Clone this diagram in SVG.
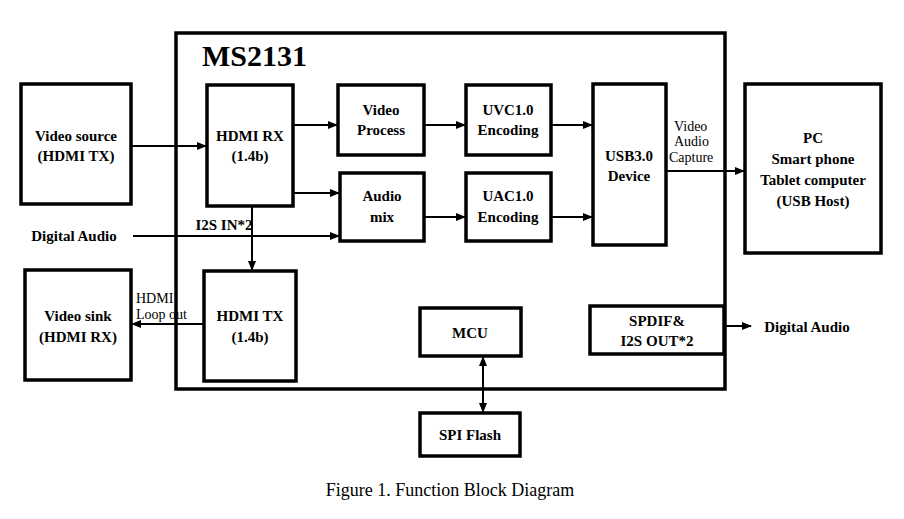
<svg xmlns="http://www.w3.org/2000/svg" width="904" height="519" viewBox="0 0 904 519">
<style>
.b{fill:#fff;stroke:#000;stroke-width:3.5}
.t{font-family:"Liberation Serif",serif;font-weight:bold;font-size:15px;text-anchor:middle}
.n{font-family:"Liberation Serif",serif;font-size:14px}
.c line{stroke:#000;stroke-width:2}
</style>
<defs><marker id="a" markerWidth="10" markerHeight="8" refX="9" refY="4" orient="auto-start-reverse" markerUnits="userSpaceOnUse"><path d="M0,0L10,4L0,8z"/></marker></defs>
<rect width="904" height="519" fill="#fff"/>
<g id="ms2131"><rect class="b" x="176" y="33" width="549" height="356"/><text x="202" y="66" font-family="Liberation Serif,serif" font-weight="bold" font-size="30">MS2131</text></g>
<g class="c">
<line x1="131" y1="146" x2="206" y2="146" marker-end="url(#a)"/>
<line x1="293" y1="125" x2="337" y2="125" marker-end="url(#a)"/>
<line x1="424" y1="125" x2="465" y2="125" marker-end="url(#a)"/>
<line x1="551" y1="125" x2="592" y2="125" marker-end="url(#a)"/>
<line x1="293" y1="193" x2="339" y2="193" marker-end="url(#a)"/>
<line x1="424" y1="217" x2="465" y2="217" marker-end="url(#a)"/>
<line x1="551" y1="217" x2="592" y2="217" marker-end="url(#a)"/>
<line x1="133" y1="236" x2="339" y2="236" marker-end="url(#a)"/>
<line x1="252" y1="206" x2="252" y2="270" marker-end="url(#a)"/>
<line x1="204" y1="324" x2="132" y2="324" marker-end="url(#a)"/>
<line x1="666" y1="171" x2="744" y2="171" marker-end="url(#a)"/>
<line x1="724" y1="326" x2="751" y2="326" marker-end="url(#a)"/>
<line x1="483" y1="357" x2="483" y2="412" marker-start="url(#a)" marker-end="url(#a)"/>
</g>
<g id="vsrc"><rect class="b" x="21" y="84" width="110" height="120"/><text class="t" x="76" y="141">Video source</text><text class="t" x="76" y="161">(HDMI TX)</text></g>
<g id="hdmirx"><rect class="b" x="207" y="85" width="86" height="121"/><text class="t" x="250" y="141">HDMI RX</text><text class="t" x="250" y="161">(1.4b)</text></g>
<g id="vproc"><rect class="b" x="338" y="85" width="86" height="70"/><text class="t" x="381" y="115">Video</text><text class="t" x="381" y="135">Process</text></g>
<g id="uvc"><rect class="b" x="466" y="85" width="85" height="70"/><text class="t" x="508" y="115">UVC1.0</text><text class="t" x="508" y="135">Encoding</text></g>
<g id="amix"><rect class="b" x="340" y="173" width="84" height="68"/><text class="t" x="382" y="201">Audio</text><text class="t" x="382" y="222">mix</text></g>
<g id="uac"><rect class="b" x="466" y="173" width="85" height="68"/><text class="t" x="508" y="201">UAC1.0</text><text class="t" x="508" y="222">Encoding</text></g>
<g id="usb"><rect class="b" x="593" y="84" width="73" height="161"/><text class="t" x="629" y="161">USB3.0</text><text class="t" x="629" y="181">Device</text></g>
<g id="pc"><rect class="b" x="745" y="84" width="136" height="169"/><text class="t" x="813" y="143">PC</text><text class="t" x="813" y="164">Smart phone</text><text class="t" x="813" y="185">Tablet computer</text><text class="t" x="813" y="206">(USB Host)</text></g>
<g id="vsink"><rect class="b" x="25" y="270" width="106" height="110"/><text class="t" x="78" y="321">Video sink</text><text class="t" x="78" y="342">(HDMI RX)</text></g>
<g id="hdmitx"><rect class="b" x="204" y="271" width="92" height="110"/><text class="t" x="250" y="321">HDMI TX</text><text class="t" x="250" y="342">(1.4b)</text></g>
<g id="mcu"><rect class="b" x="420" y="308" width="101" height="48"/><text class="t" x="470" y="338">MCU</text></g>
<g id="spdif"><rect class="b" x="590" y="306" width="134" height="48"/><text class="t" x="657" y="326">SPDIF&amp;</text><text class="t" x="657" y="346">I2S OUT*2</text></g>
<g id="spi"><rect class="b" x="420" y="413" width="100" height="43"/><text class="t" x="470" y="440">SPI Flash</text></g>
<g id="labels">
<text class="t" x="74" y="241">Digital Audio</text>
<text class="t" x="224" y="230">I2S IN*2</text>
<text class="t" x="807" y="332">Digital Audio</text>
<text class="n" x="136" y="303">HDMI</text>
<text class="n" x="136" y="319">Loop out</text>
<text class="n" x="674" y="131">Video</text>
<text class="n" x="674" y="146">Audio</text>
<text class="n" x="669" y="162">Capture</text>
<text x="450" y="496" font-family="Liberation Serif,serif" font-size="18" text-anchor="middle">Figure 1. Function Block Diagram</text>
</g>
</svg>
